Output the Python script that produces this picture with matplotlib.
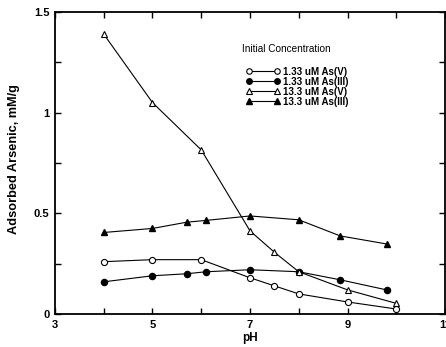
import matplotlib.pyplot as plt
from matplotlib.ticker import MultipleLocator

plt.rcParams['font.family'] = ['Liberation Sans', 'DejaVu Sans']

# Adsorbed arsenic (mM/g) versus pH for each initial concentration
ph_as5_low = [4, 5, 6, 7, 7.5, 8, 9, 10]
as5_low = [0.26, 0.27, 0.27, 0.18, 0.14, 0.10, 0.06, 0.025]

ph_as3_low = [4, 5, 5.7, 6.1, 7, 8, 8.85, 9.8]
as3_low = [0.16, 0.19, 0.20, 0.21, 0.22, 0.21, 0.17, 0.12]

ph_as5_high = [4, 5, 6, 7, 7.5, 8, 9, 10]
as5_high = [1.39, 1.05, 0.815, 0.413, 0.307, 0.21, 0.12, 0.053]

ph_as3_high = [4, 5, 5.7, 6.1, 7, 8, 8.85, 9.8]
as3_high = [0.405, 0.425, 0.456, 0.465, 0.487, 0.468, 0.388, 0.348]

labels = ['1.33 uM As(V)', '1.33 uM As(III)', '13.3 uM As(V)', '13.3 uM As(III)']

fig = plt.figure(figsize=(4.46, 3.47), dpi=100)
ax = fig.add_axes([0.1233, 0.095, 0.8745, 0.8705])

lw = 0.8
ms = 4.4
ax.plot(ph_as5_low, as5_low, color='black', lw=lw, marker='o', ms=ms,
        mfc='white', mec='black', mew=0.8, label=labels[0])
ax.plot(ph_as3_low, as3_low, color='black', lw=lw, marker='o', ms=ms,
        mfc='black', mec='black', label=labels[1])
ax.plot(ph_as5_high, as5_high, color='black', lw=lw, marker='^', ms=ms + 0.4,
        mfc='white', mec='black', mew=0.8, label=labels[2])
ax.plot(ph_as3_high, as3_high, color='black', lw=lw, marker='^', ms=ms + 0.4,
        mfc='black', mec='black', label=labels[3])

ax.set_xlim(3, 11)
ax.set_ylim(0, 1.5)
ax.xaxis.set_minor_locator(MultipleLocator(1))
ax.yaxis.set_minor_locator(MultipleLocator(0.25))
ax.set_xticks([3, 5, 7, 9, 11])
ax.set_xticklabels(['3', '5', '7', '9', '11'])
ax.set_yticks([0, 0.5, 1, 1.5])
ax.set_yticklabels(['0', '0.5', '1', '1.5'])

ax.tick_params(which='both', direction='in', top=True, right=True,
               width=1.0, labelsize=8, pad=4)
ax.tick_params(which='major', length=4)
ax.tick_params(which='minor', length=4)
for lab in ax.get_xticklabels() + ax.get_yticklabels():
    lab.set_fontweight('bold')
for sp in ax.spines.values():
    sp.set_linewidth(1.3)

ax.set_xlabel('pH', fontsize=8.5, fontweight='bold', labelpad=2)
ax.set_ylabel('Adsorbed Arsenic, mM/g', fontsize=9.2, fontweight='bold', labelpad=5)
ax.yaxis.set_label_coords(-0.09, 0.513)

leg = ax.legend(loc='upper left', bbox_to_anchor=(0.468, 0.922), frameon=False,
                numpoints=2, handlelength=3.5, handletextpad=0.3,
                labelspacing=0.0, prop={'size': 7.0, 'weight': 'bold'},
                title='Initial Concentration', title_fontsize=7.2,
                markerscale=0.9)
leg._legend_box.align = 'left'
leg._legend_box.sep = 9
leg.get_title().set_position((-4, 0))

fig.savefig('out.png', dpi=100)
